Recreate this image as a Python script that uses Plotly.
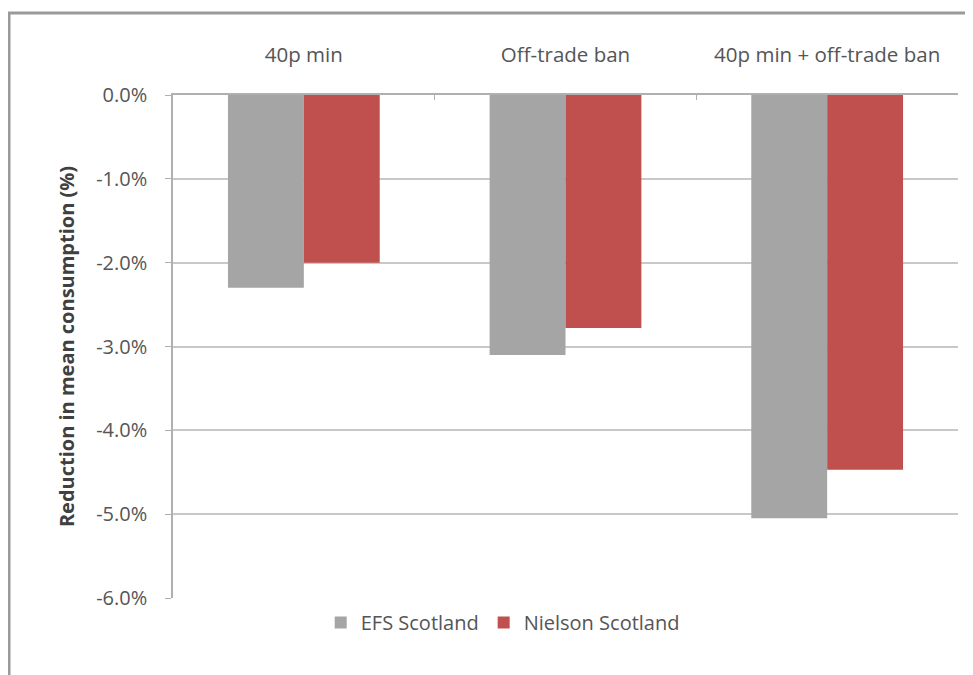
import plotly.graph_objects as go

categories = ["40p min", "Off-trade ban", "40p min + off-trade ban"]
efs_scotland = [-2.3, -3.1, -5.05]
nielson_scotland = [-2.0, -2.78, -4.47]
y_tick_vals = [0, -1, -2, -3, -4, -5, -6]
y_tick_text = ["0.0%", "-1.0%", "-2.0%", "-3.0%", "-4.0%", "-5.0%", "-6.0%"]

# page body has an 8px margin, so the figure is sized to fill the rest of the window
OFF = 8
W, H = 973 - OFF, 675 - OFF
L, R, T, B = 173 - OFF, 15, 95 - OFF, 77
pw, ph = W - L - R, H - T - B

font_family = "'Open Sans', Lato, sans-serif"
text_col = "#555555"

fig = go.Figure()
fig.add_trace(go.Bar(x=categories, y=efs_scotland, name="EFS Scotland",
                     marker=dict(color="#A5A5A5", line=dict(width=0))))
fig.add_trace(go.Bar(x=categories, y=nielson_scotland, name="Nielson Scotland",
                     marker=dict(color="#C0504D", line=dict(width=0))))

fig.update_layout(
    width=W, height=H,
    margin=dict(l=L, r=R, t=T, b=B, autoexpand=False),
    paper_bgcolor="white", plot_bgcolor="white",
    barmode="group", bargap=0.42, bargroupgap=0,
    font=dict(family=font_family, color=text_col, size=19),
    legend=dict(orientation="h", x=0.42, xanchor="center", y=-0.01, yanchor="top",
                font=dict(size=20, color=text_col), itemwidth=30,
                traceorder="normal"),
    showlegend=True,
)

fig.update_xaxes(
    side="top", type="category",
    showline=True, linecolor="#B0B0B0", linewidth=1.5,
    ticks="inside", tickson="boundaries", ticklen=5, tickcolor="#B0B0B0",
    tickfont=dict(size=20.5, color=text_col),
    ticklabelstandoff=23,
    showgrid=False, mirror=False,
)
fig.update_yaxes(
    range=[-6, 0], tickvals=y_tick_vals, ticktext=y_tick_text,
    showgrid=True, gridcolor="#C8C8C8", gridwidth=1.5,
    zeroline=False,
    showline=True, linecolor="#B0B0B0", linewidth=1.5,
    ticks="outside", ticklen=6, tickcolor="#B0B0B0",
    tickfont=dict(size=20, color=text_col),
    ticklabelstandoff=14,
    title=dict(text="<b>Reduction in mean consumption (%)</b>",
               font=dict(size=20, color="#404040"), standoff=16),
)

# outer chart border (cropped at right/bottom in the reference)
fig.add_shape(type="rect", xref="paper", yref="paper",
              x0=(9 - OFF - L) / pw, x1=(W + 20 - L) / pw,
              y0=-(B + 20) / ph, y1=1 + (T - (13 - OFF)) / ph,
              line=dict(color="#9A9A9A", width=3), fillcolor="rgba(0,0,0,0)",
              layer="below")

fig.write_html("out.html")
